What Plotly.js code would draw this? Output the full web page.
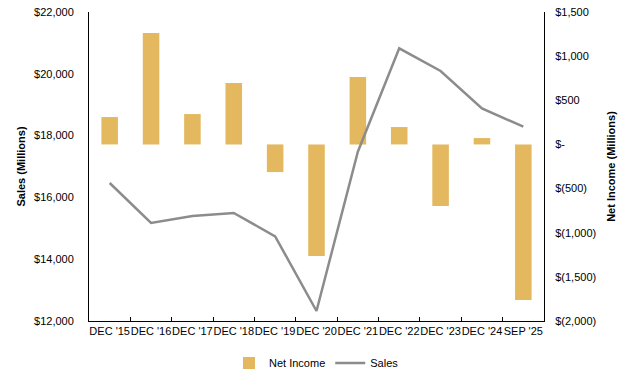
<!DOCTYPE html>
<html><head><meta charset="utf-8">
<script src="https://cdn.plot.ly/plotly-3.0.1.min.js"></script>
<style>body{margin:0;padding:0;background:#fff}#chart{width:625px;height:381px}</style>
</head><body><div id="chart"></div>
<script>
const categories = ["DEC '15","DEC '16","DEC '17","DEC '18","DEC '19","DEC '20","DEC '21","DEC '22","DEC '23","DEC '24","SEP '25"];
const netIncome = [310, 1262, 344, 695, -313, -1264, 763, 197, -698, 72, -1762];
const sales = [16466, 15172, 15398, 15495, 14741, 12324, 17480, 20825, 20091, 18883, 18289];
const salesTicks = [12000, 14000, 16000, 18000, 20000, 22000];
const salesTickText = ["$12,000","$14,000","$16,000","$18,000","$20,000","$22,000"];
const niTicks = [-2000, -1500, -1000, -500, 0, 500, 1000, 1500];
const niTickText = ["$(2,000)","$(1,500)","$(1,000)","$(500)","$-","$500","$1,000","$1,500"];

const font = {family: "Liberation Sans, Arial, sans-serif", size: 11, color: "#000"};

const traces = [
  {type: "bar", name: "Net Income", x: categories, y: netIncome, yaxis: "y",
   width: 0.4, marker: {color: "#E4B85E"}, hoverinfo: "skip"},
  {type: "scatter", mode: "lines", name: "Sales", x: categories, y: sales, yaxis: "y2",
   line: {color: "#8C8C8C", width: 2.5}, hoverinfo: "skip"}
];

const layout = {
  width: 625, height: 381,
  margin: {l: 89, r: 81, t: 12, b: 60, autoexpand: false},
  paper_bgcolor: "#fff", plot_bgcolor: "#fff",
  font: font,
  showlegend: true,
  legend: {orientation: "h", x: 0.5, xanchor: "center", y: -0.136, yanchor: "middle",
           font: font, traceorder: "normal"},
  xaxis: {type: "category", range: [-0.5, 10.5], showline: true, linecolor: "#000", linewidth: 1,
          ticks: "inside", tickson: "boundaries", ticklen: 4, tickcolor: "#000", tickangle: 0,
          showgrid: false, zeroline: false, tickfont: font, fixedrange: true, automargin: false},
  yaxis: {side: "right", range: [-2000, 1500], tickvals: niTicks, ticktext: niTickText,
          showline: true, linecolor: "#000", linewidth: 1, ticks: "", showgrid: false,
          zeroline: false, tickfont: font, ticklabelstandoff: 8, automargin: false,
          title: {text: "Net Income (Millions)", font: {family: font.family, size: 11, color: "#000", weight: "bold"}, standoff: 12},
          fixedrange: true},
  yaxis2: {side: "left", overlaying: "y", range: [12000, 22000], tickvals: salesTicks, ticktext: salesTickText,
           showline: true, linecolor: "#000", linewidth: 1, ticks: "", showgrid: false,
           zeroline: false, tickfont: font, ticklabelstandoff: 12, automargin: false,
           title: {text: "Sales (Millions)", font: {family: font.family, size: 11, color: "#000", weight: "bold"}, standoff: 6},
           fixedrange: true}
};

Plotly.newPlot("chart", traces, layout, {displayModeBar: false, staticPlot: true});
</script></body></html>
